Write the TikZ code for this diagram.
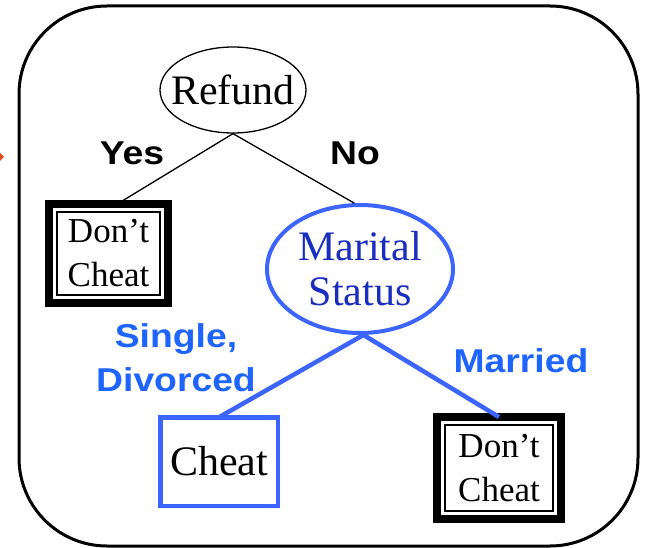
\documentclass[tikz,border=0pt]{standalone}
\usepackage{fontspec}
\setmainfont{Liberation Serif}
\newfontfamily\hv[FakeStretch=1.13]{Liberation Sans}
\usetikzlibrary{shapes.geometric,calc}
\definecolor{lineblue}{RGB}{60,100,255}
\definecolor{labelblue}{RGB}{30,100,255}
\definecolor{nodeblue}{RGB}{25,45,190}
\definecolor{pointer}{RGB}{225,75,20}
\tikzset{
  frame/.style={draw=black,line width=3pt,rounded corners=88pt},
  rootnode/.style={ellipse,draw=black,line width=1.3pt,minimum width=146pt,minimum height=86pt,
    inner xsep=-12pt,inner ysep=0pt,font=\fontsize{42}{45}\selectfont},
  splitnode/.style={ellipse,draw=lineblue,line width=4pt,minimum width=186pt,minimum height=128pt,inner sep=0pt,
    align=center,text=nodeblue,font=\fontsize{42}{45}\selectfont},
  leafbox/.style={rectangle,draw=black,line width=8pt,outer sep=0pt,inner sep=0pt,align=center,
    font=\fontsize{35}{44}\selectfont},
  leafblue/.style={rectangle,draw=lineblue,line width=4.5pt,outer sep=0pt,inner sep=0pt,
    font=\fontsize{42}{45}\selectfont},
  edge/.style={draw=black,line width=1.3pt},
  blueedge/.style={draw=lineblue,line width=4.5pt},
  branch/.style={font=\hv\bfseries\fontsize{33}{44}\selectfont,align=center},
}
\begin{document}
\begin{tikzpicture}[x=1pt,y=-1pt]
\useasboundingbox (0,0) rectangle (648,548);
% outer frame and the tip of the pointer entering from the left
\draw[frame] (19,6) rectangle (638,546);
\fill[pointer] (0,153) -- (4,157) -- (0,161) -- cycle;

% nodes
\node[rootnode] (refund) at (233,90) {Refund};
\node[splitnode] (marital) at (360,269) {Marital\\Status};
\node[leafbox,minimum width=119pt,minimum height=99pt] (dcl) at (108.5,253.5) {Don’t\\Cheat};
\draw[line width=1.3pt] ($(dcl.north west)+(8,8)$) rectangle ($(dcl.south east)+(-8,-8)$);
\node[leafblue,minimum width=117.5pt,minimum height=88.5pt] (cheat) at (219,461.5) {Cheat};
\node[leafbox,minimum width=124pt,minimum height=102pt] (dcr) at (499,468) {Don’t\\Cheat};
\draw[line width=1.3pt] ($(dcr.north west)+(8,8)$) rectangle ($(dcr.south east)+(-8,-8)$);

% connectors
\draw[edge] (refund.south) -- (dcl.80);
\draw[edge] (refund.south) -- (marital.95);
\draw[blueedge] (marital.-87) -- (cheat.north);
\draw[blueedge] (marital.-87) -- (dcr.north);

% branch labels
\node[branch] (yes) at (132,153) {Yes};
\node[branch] (no) at (355,153) {No};
\node[branch,text=labelblue] (single) at (176,358) {Single,\\Divorced};
\node[branch,text=labelblue,anchor=base] (married) at (521,372) {Married};
\end{tikzpicture}
\end{document}
